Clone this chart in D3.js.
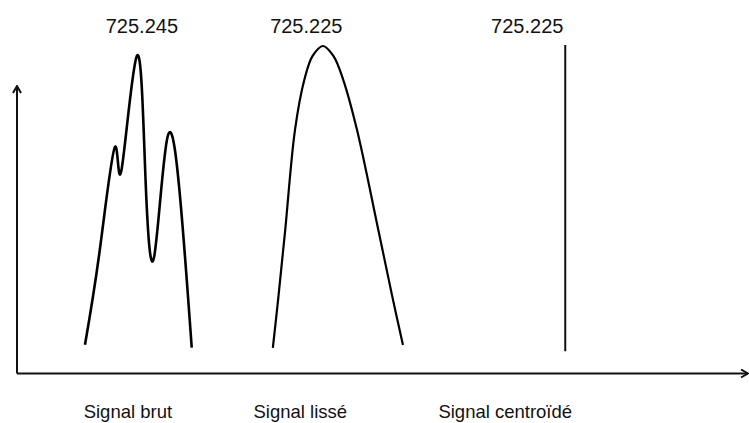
<!DOCTYPE html>
<html>
<head>
<meta charset="utf-8">
<script src="https://cdn.jsdelivr.net/npm/d3@7"></script>
<style>
  body { margin: 0; background: #fff; }
  svg text { font-family: "Liberation Sans", Arial, sans-serif; fill: #111; }
</style>
</head>
<body>
<svg width="749" height="423"></svg>
<script>
// raw signal (position, intensity)
let rawX = [9.3, 11.33, 13.4, 14.3, 16.4, 17.55, 18.75, 20.6, 22.43, 23.9]
let rawY = [8.8, 37.8, 69.2, 62.2, 97.0, 61.2, 35.5, 72.3, 50.8, 7.9]

// smoothed signal
let smoothX = [35.0, 35.76, 36.69, 38.03, 39.3, 40.42, 41.86, 43.3, 44.64, 46.51, 49.43, 51.35, 52.8]
let smoothY = [7.8, 23.4, 43.8, 74.4, 89.6, 96.9, 100, 96.9, 89.6, 74.4, 43.8, 23.4, 8.7]

// centroid stick
let centroidX = 75.0
let centroidY = [6.8, 100.3]

let peakLabels = ["725.245", "725.225", "725.225"]
let panelLabels = ["Signal brut", "Signal lissé", "Signal centroïdé"]
let peakPos = [16.4, 41.9, 75.0]

let svg = d3.select("svg")

let x = d3.scaleLinear().domain([0, 100]).range([17, 748])
let y = d3.scaleLinear().domain([0, 100]).range([373.5, 46])

// arrow heads
let defs = svg.append("defs")
defs.append("marker")
    .attr("id", "arrow")
    .attr("viewBox", "0 0 10 10")
    .attr("refX", 9)
    .attr("refY", 5)
    .attr("markerWidth", 10)
    .attr("markerHeight", 10)
    .attr("markerUnits", "userSpaceOnUse")
    .attr("orient", "auto")
    .append("path")
    .attr("d", "M2,1 L9,5 L2,9")
    .style("fill", "none")
    .style("stroke", "#111")
    .style("stroke-width", 2)

// axes
svg.append("path")
    .attr("d", "M" + x(0) + "," + y(0) + " L" + x(0) + "," + 86)
    .style("fill", "none")
    .style("stroke", "#111")
    .style("stroke-width", 2)
    .attr("marker-end", "url(#arrow)")

svg.append("path")
    .attr("d", "M" + x(0) + "," + y(0) + " L" + 748 + "," + y(0))
    .style("fill", "none")
    .style("stroke", "#111")
    .style("stroke-width", 2)
    .attr("marker-end", "url(#arrow)")

let line = d3.line()
    .x(d => x(d[0]))
    .y(d => y(d[1]))
    .curve(d3.curveCatmullRom)

svg.append("path")
    .datum(d3.zip(rawX, rawY))
    .attr("d", line.curve(d3.curveNatural))
    .style("fill", "none")
    .style("stroke", "#000")
    .style("stroke-width", 2.6)

svg.append("path")
    .datum(d3.zip(smoothX, smoothY))
    .attr("d", line.curve(d3.curveCatmullRom))
    .style("fill", "none")
    .style("stroke", "#000")
    .style("stroke-width", 2.2)

svg.append("line")
    .attr("x1", x(centroidX))
    .attr("x2", x(centroidX))
    .attr("y1", y(centroidY[0]))
    .attr("y2", y(centroidY[1]))
    .style("stroke", "#111")
    .style("stroke-width", 2)

// labels, nudged from the peaks
let topDx = [5, -17, -38]
let botDx = [-9, -23, -60]

svg.selectAll(".peak-label")
    .data(peakLabels)
    .join("text")
    .attr("class", "peak-label")
    .attr("x", (d, i) => x(peakPos[i]) + topDx[i])
    .attr("y", 33)
    .attr("text-anchor", "middle")
    .style("font-size", "20px")
    .text(d => d)

svg.selectAll(".panel-label")
    .data(panelLabels)
    .join("text")
    .attr("class", "panel-label")
    .attr("x", (d, i) => x(peakPos[i]) + botDx[i])
    .attr("y", 418)
    .attr("text-anchor", "middle")
    .style("font-size", "18.5px")
    .text(d => d)
</script>
</body>
</html>
